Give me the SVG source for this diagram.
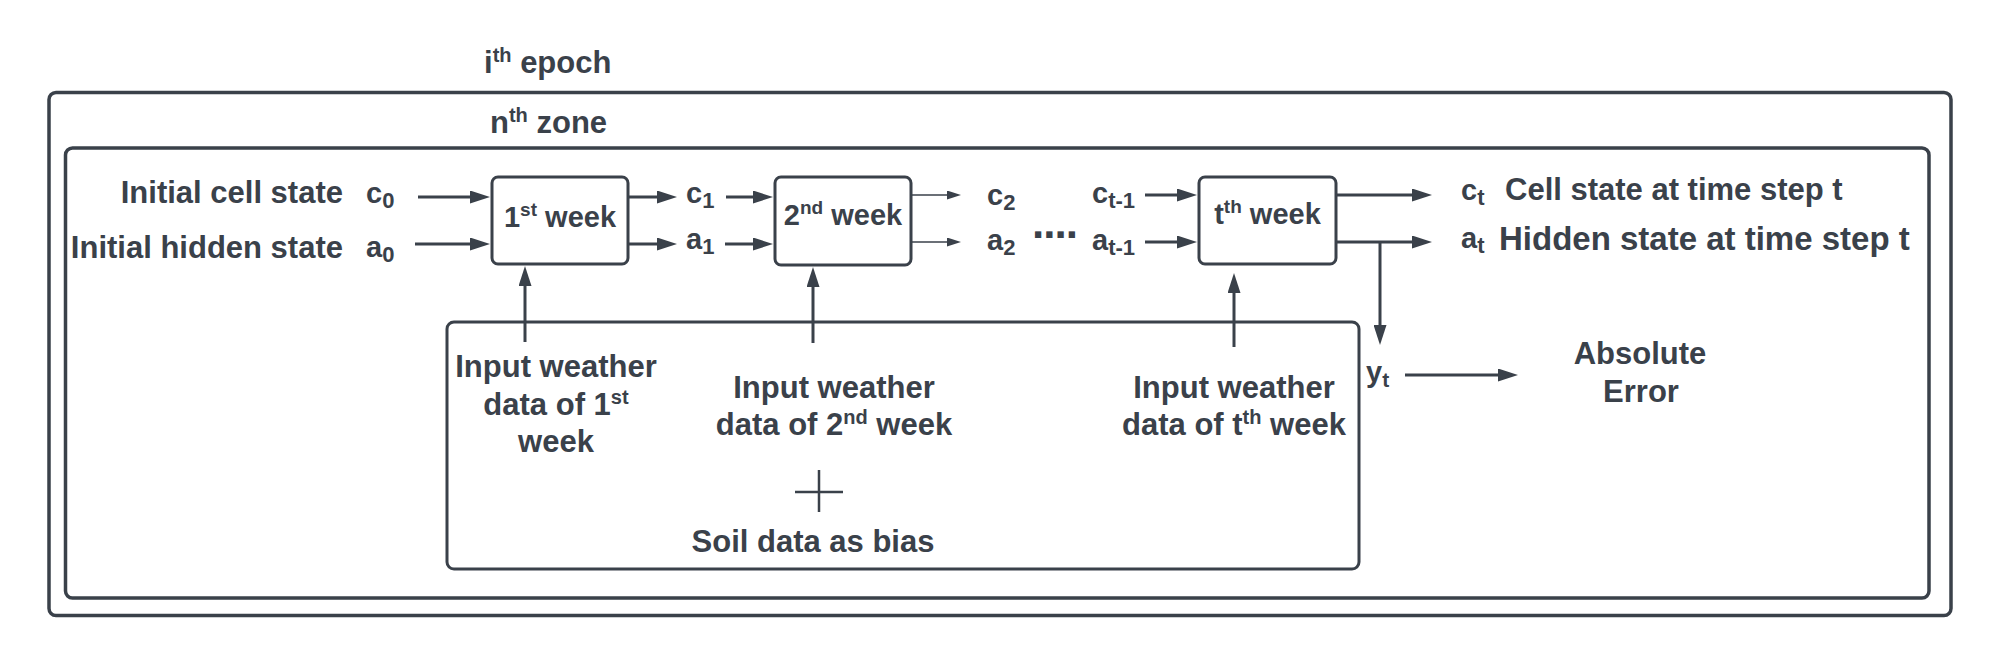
<svg xmlns="http://www.w3.org/2000/svg" width="1992" height="657" viewBox="0 0 1992 657">
<style>
.frame{fill:none;stroke:#3a414a;stroke-width:3.5}
.box{fill:#ffffff;stroke:#3a414a;stroke-width:3}
.t{font-family:"Liberation Sans",Arial,sans-serif;font-weight:bold;fill:#3a414a;font-size:31px}
.lbl{font-size:29px}
.big{font-size:33px}
.c{stroke:#3a414a;stroke-width:3;fill:none}
.thin{stroke:#3a414a;stroke-width:1.5;fill:none}
</style>
<defs>
<marker id="ah" markerWidth="20" markerHeight="13" refX="10" refY="6.5" orient="auto" markerUnits="userSpaceOnUse"><path d="M0,0 L20,6.5 L0,13 z" fill="#3a414a"/></marker>
<marker id="ahs" markerWidth="14" markerHeight="9" refX="7" refY="4.5" orient="auto" markerUnits="userSpaceOnUse"><path d="M0,0 L14,4.5 L0,9 z" fill="#3a414a"/></marker>
</defs>
<rect width="1992" height="657" fill="#ffffff"/>

<g id="epoch">
<rect class="frame" x="49" y="92.5" width="1902" height="523" rx="7"/>
<text class="t" x="484" y="73">i<tspan font-size="20" dy="-11">th</tspan><tspan dy="11"> epoch</tspan></text>
</g>
<g id="zone">
<rect class="frame" x="65.5" y="148" width="1863.5" height="450" rx="7"/>
<text class="t" x="490" y="133">n<tspan font-size="20" dy="-11">th</tspan><tspan dy="11"> zone</tspan></text>
</g>

<g id="inputs-box">
<rect class="box" x="447" y="322" width="912" height="247" rx="7"/>
</g>

<g id="week1">
<rect class="box" x="492" y="177" width="136" height="87" rx="6"/>
<text class="t lbl" x="560" y="227" text-anchor="middle">1<tspan font-size="19" dy="-11">st</tspan><tspan dy="11"> week</tspan></text>
</g>
<g id="week2">
<rect class="box" x="775" y="177" width="136" height="88" rx="6"/>
<text class="t lbl" x="843" y="225" text-anchor="middle">2<tspan font-size="19" dy="-11">nd</tspan><tspan dy="11"> week</tspan></text>
</g>
<g id="weekt">
<rect class="box" x="1199" y="177" width="137" height="87" rx="6"/>
<text class="t lbl" x="1267.5" y="224" text-anchor="middle">t<tspan font-size="19" dy="-11">th</tspan><tspan dy="11"> week</tspan></text>
</g>

<g id="labels-left">
<text class="t" x="343" y="202.5" text-anchor="end">Initial cell state</text>
<text class="t" x="343" y="258" text-anchor="end">Initial hidden state</text>
<text class="t lbl" x="366" y="203">c<tspan font-size="22" dy="5">0</tspan></text>
<text class="t lbl" x="366" y="257">a<tspan font-size="22" dy="5">0</tspan></text>
</g>

<g id="states">
<text class="t lbl" x="686" y="203">c<tspan font-size="22" dy="5">1</tspan></text>
<text class="t lbl" x="686" y="249">a<tspan font-size="22" dy="5">1</tspan></text>
<text class="t lbl" x="987" y="205">c<tspan font-size="22" dy="5">2</tspan></text>
<text class="t lbl" x="987" y="250">a<tspan font-size="22" dy="5">2</tspan></text>
<text class="t" x="1032" y="237.5" style="font-size:44px" letter-spacing="-1">....</text>
<text class="t lbl" x="1092" y="203">c<tspan font-size="22" dy="5">t-1</tspan></text>
<text class="t lbl" x="1092" y="250">a<tspan font-size="22" dy="5">t-1</tspan></text>
</g>

<g id="outputs">
<text class="t lbl" x="1461" y="200">c<tspan font-size="22" dy="5">t</tspan></text>
<text class="t" x="1505" y="199.5">Cell state at time step t</text>
<text class="t lbl" x="1461" y="248">a<tspan font-size="22" dy="5">t</tspan></text>
<text class="t big" x="1499" y="250">Hidden state at time step t</text>
</g>

<g id="yt">
<text class="t lbl" x="1366" y="382">y<tspan font-size="21" dy="5">t</tspan></text>
</g>
<g id="abs-error">
<text class="t" x="1640" y="364" text-anchor="middle">Absolute</text>
<text class="t" x="1641" y="402" text-anchor="middle">Error</text>
</g>

<g id="input1">
<text class="t" x="556" y="377" text-anchor="middle">Input weather</text>
<text class="t" x="556" y="415" text-anchor="middle">data of 1<tspan font-size="20" dy="-11">st</tspan></text>
<text class="t" x="556" y="452" text-anchor="middle">week</text>
</g>
<g id="input2">
<text class="t" x="834" y="398" text-anchor="middle">Input weather</text>
<text class="t" x="834" y="435" text-anchor="middle">data of 2<tspan font-size="20" dy="-11">nd</tspan><tspan dy="11"> week</tspan></text>
</g>
<g id="inputt">
<text class="t" x="1234" y="398" text-anchor="middle">Input weather</text>
<text class="t" x="1234" y="435" text-anchor="middle">data of t<tspan font-size="20" dy="-11">th</tspan><tspan dy="11"> week</tspan></text>
</g>
<g id="soil">
<path d="M819,470 V512 M795,492 H843" stroke="#3a414a" stroke-width="2.5" fill="none"/>
<text class="t" x="813" y="552" text-anchor="middle">Soil data as bias</text>
</g>

<g id="connectors">
<line class="c" x1="418" y1="197" x2="480" y2="197" marker-end="url(#ah)"/>
<line class="c" x1="415" y1="244" x2="480" y2="244" marker-end="url(#ah)"/>
<line class="c" x1="629" y1="197" x2="667" y2="197" marker-end="url(#ah)"/>
<line class="c" x1="629" y1="244" x2="667" y2="244" marker-end="url(#ah)"/>
<line class="c" x1="726" y1="197" x2="763" y2="197" marker-end="url(#ah)"/>
<line class="c" x1="725" y1="244" x2="763" y2="244" marker-end="url(#ah)"/>
<line class="thin" x1="912" y1="195" x2="954" y2="195" marker-end="url(#ahs)"/>
<line class="thin" x1="912" y1="242" x2="954" y2="242" marker-end="url(#ahs)"/>
<line class="c" x1="1145" y1="195" x2="1187" y2="195" marker-end="url(#ah)"/>
<line class="c" x1="1145" y1="242" x2="1187" y2="242" marker-end="url(#ah)"/>
<line class="c" x1="1337" y1="195" x2="1422" y2="195" marker-end="url(#ah)"/>
<line class="c" x1="1337" y1="242" x2="1422" y2="242" marker-end="url(#ah)"/>
<line class="c" x1="1380" y1="242" x2="1380" y2="335" marker-end="url(#ah)"/>
<line class="c" x1="1405" y1="375" x2="1508" y2="375" marker-end="url(#ah)"/>
<line class="c" x1="525" y1="342" x2="525" y2="276" marker-end="url(#ah)"/>
<line class="c" x1="813" y1="343" x2="813" y2="277" marker-end="url(#ah)"/>
<line class="c" x1="1234" y1="347" x2="1234" y2="283" marker-end="url(#ah)"/>
</g>
</svg>
